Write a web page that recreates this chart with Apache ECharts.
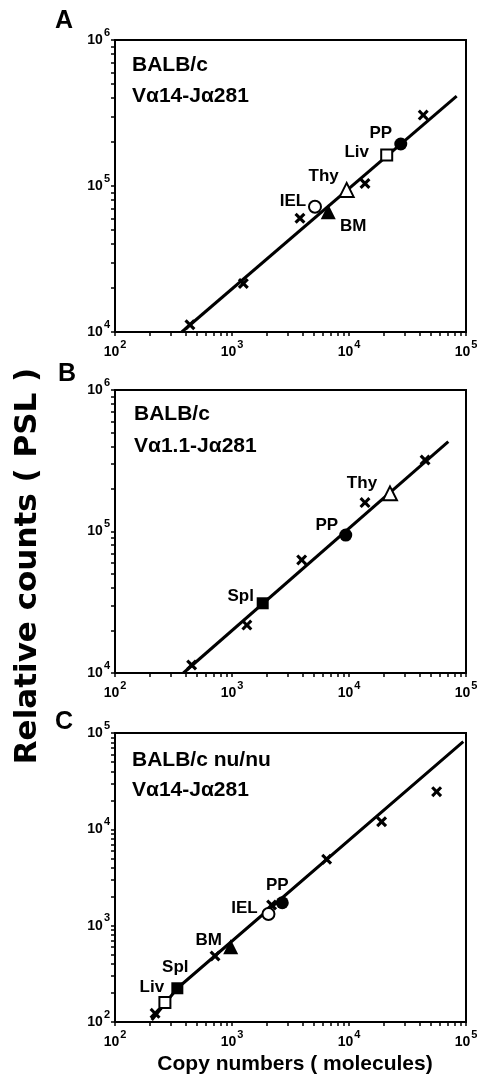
<!DOCTYPE html>
<html><head><meta charset="utf-8">
<script src="https://cdn.jsdelivr.net/npm/echarts@6/dist/echarts.min.js"></script>
<style>html,body{margin:0;padding:0;background:#fff}#c{width:481px;height:1074px}</style>
</head><body><div id="c"></div><script>
// ---------- axis ticks / labels ----------
const xTickValues = [100,200,300,400,500,600,700,800,900,1000,2000,3000,4000,5000,6000,7000,8000,9000,10000,20000,30000,40000,50000,60000,70000,80000,90000,100000];
const xLabelValues = [100,1000,10000,100000];
const yTickAB = [10000,20000,30000,40000,50000,60000,70000,80000,90000,100000,200000,300000,400000,500000,600000,700000,800000,900000,1000000];
const yLabelAB = [10000,100000,1000000];
const yTickC = [100,200,300,400,500,600,700,800,900,1000,2000,3000,4000,5000,6000,7000,8000,9000,10000,20000,30000,40000,50000,60000,70000,80000,90000,100000];
const yLabelC = [100,1000,10000,100000];

// ---------- panel A : BALB/c  Vα14-Jα281 ----------
const A_cross = [[437,11200],[1250,21500],[3810,60100],[13700,104000],[43100,306000]];
const A_fit = [[372,10000],[83200,413000]];
const A_IEL = [[5120,72100]];
const A_BM = [[6650,66700]];
const A_Thy = [[9550,94000]];
const A_Liv = [[21000,163000]];
const A_PP = [[27700,194000]];

// ---------- panel B : BALB/c  Vα1.1-Jα281 ----------
const B_cross = [[452,11400],[1340,21800],[3940,63000],[13700,160000],[44700,320000]];
const B_fit = [[384,10000],[70600,431000]];
const B_Spl = [[1830,31100]];
const B_PP = [[9380,94400]];
const B_Thy = [[22400,186000]];

// ---------- panel C : BALB/c nu/nu  Vα14-Jα281 ----------
const C_cross = [[220,123],[716,484],[2180,1640],[6440,4890],[19000,12000],[56100,24600]];
const C_fit = [[206,105],[341,224],[94800,81300]];
const C_Liv = [[267,159]];
const C_Spl = [[341,224]];
const C_BM = [[975,605]];
const C_IEL = [[2050,1320]];
const C_PP = [[2690,1730]];

// ---------- styling ----------
const F = 'Liberation Sans, Arial, sans-serif';
const crossPath = 'path://M2,0 L5,3 L8,0 L10,2 L7,5 L10,8 L8,10 L5,7 L2,10 L0,8 L3,5 L0,2 Z';
const rich = {
  b: {fontSize: 14, fontWeight: 'bold', fontFamily: F, color: '#000', padding: [6,0,6,0], verticalAlign: 'bottom'},
  s: {fontSize: 11, fontWeight: 'bold', fontFamily: F, color: '#000', padding: [0,0,0,1], verticalAlign: 'top'}
};
const fmt = v => '{b|10}{s|' + Math.round(Math.log10(v)) + '}';

const grids = [
  {left: 115, top: 40, width: 351, height: 292},
  {left: 115, top: 390, width: 351, height: 283},
  {left: 115, top: 733, width: 351, height: 289}
].map(g => Object.assign(g, {show: true, borderColor: '#000', borderWidth: 2, backgroundColor: 'transparent', containLabel: false, outerBoundsMode: 'none'}));

function xAx(i) {
  return {type: 'log', logBase: 10, gridIndex: i, min: 100, max: 100000,
    axisLine: {show: true, lineStyle: {color: '#000', width: 2}},
    axisTick: {show: true, inside: false, length: 4, lineStyle: {color: '#000', width: 1.5}, customValues: xTickValues},
    axisLabel: {show: true, margin: 7, formatter: fmt, rich: rich, customValues: xLabelValues},
    splitLine: {show: false}, minorTick: {show: false}};
}
function yAx(i, mn, mx, ticks, labels) {
  return {type: 'log', logBase: 10, gridIndex: i, min: mn, max: mx,
    axisLine: {show: true, lineStyle: {color: '#000', width: 2}},
    axisTick: {show: true, inside: false, length: 4, lineStyle: {color: '#000', width: 1.5}, customValues: ticks},
    axisLabel: {show: true, margin: 5, formatter: fmt, rich: rich, customValues: labels},
    splitLine: {show: false}, minorTick: {show: false}};
}

function fit(i, d) {
  return {type: 'line', xAxisIndex: i, yAxisIndex: i, data: d, symbol: 'none', z: 2,
    lineStyle: {color: '#000', width: 3}, silent: true, animation: false};
}
function pts(i, d, name, kind, off) {
  const shapes = {
    cross: {symbol: crossPath, size: 11, fill: '#000', border: 0},
    ocircle: {symbol: 'circle', size: 12, fill: '#fff', border: 2},
    fcircle: {symbol: 'circle', size: 13, fill: '#000', border: 0},
    otri: {symbol: 'triangle', size: 14, fill: '#fff', border: 2},
    ftri: {symbol: 'triangle', size: 15, fill: '#000', border: 0},
    osq: {symbol: 'rect', size: 11, fill: '#fff', border: 2},
    fsq: {symbol: 'rect', size: 12, fill: '#000', border: 0}
  };
  const s = shapes[kind];
  return {type: 'scatter', name: name, xAxisIndex: i, yAxisIndex: i, data: d, z: 3,
    symbol: s.symbol, symbolSize: s.size, animation: false,
    itemStyle: {color: s.fill, borderColor: '#000', borderWidth: s.border, opacity: 1},
    label: off ? {show: true, position: 'inside', offset: off, formatter: '{a}',
      fontFamily: F, fontWeight: 'bold', fontSize: 17, color: '#000'} : {show: false}};
}

function txt(x, y, t, font, extra) {
  return Object.assign({type: 'text', x: x, y: y, z: 10,
    style: {text: t, font: font, fill: '#000', align: 'left', verticalAlign: 'middle'}}, extra || {});
}
const hdr = 'bold 21px Liberation Sans';
const graphic = [
  txt(64, 21, 'A', 'bold 25px Liberation Sans', {style: {text: 'A', font: 'bold 25px Liberation Sans', fill: '#000', align: 'center', verticalAlign: 'middle'}}),
  txt(67, 374, 'B', '', {style: {text: 'B', font: 'bold 25px Liberation Sans', fill: '#000', align: 'center', verticalAlign: 'middle'}}),
  txt(64, 722, 'C', '', {style: {text: 'C', font: 'bold 25px Liberation Sans', fill: '#000', align: 'center', verticalAlign: 'middle'}}),
  txt(132, 65, 'BALB/c', hdr),
  txt(132, 96, 'Vα14-Jα281', hdr),
  txt(134, 414, 'BALB/c', hdr),
  txt(134, 446, 'Vα1.1-Jα281', hdr),
  txt(132, 760, 'BALB/c nu/nu', hdr),
  txt(132, 790, 'Vα14-Jα281', hdr),
  {type: 'text', x: 28, y: 566, rotation: Math.PI / 2, z: 10,
    style: {text: 'Relative counts ( PSL )', font: 'bold 31px DejaVu Sans', fill: '#000', align: 'center', verticalAlign: 'middle'}},
  {type: 'text', x: 295, y: 1064, z: 10,
    style: {text: 'Copy numbers ( molecules)', font: 'bold 21px Liberation Sans', fill: '#000', align: 'center', verticalAlign: 'middle'}}
];

const option = {
  animation: false,
  backgroundColor: '#fff',
  grid: grids,
  xAxis: [xAx(0), xAx(1), xAx(2)],
  yAxis: [yAx(0, 10000, 1000000, yTickAB, yLabelAB), yAx(1, 10000, 1000000, yTickAB, yLabelAB), yAx(2, 100, 100000, yTickC, yLabelC)],
  graphic: graphic,
  series: [
    fit(0, A_fit),
    pts(0, A_cross, 'x', 'cross'),
    pts(0, A_IEL, 'IEL', 'ocircle', [-22, -5]),
    pts(0, A_BM, 'BM', 'ftri', [25, 15]),
    pts(0, A_Thy, 'Thy', 'otri', [-23, -14]),
    pts(0, A_Liv, 'Liv', 'osq', [-30, -3]),
    pts(0, A_PP, 'PP', 'fcircle', [-20, -11]),
    fit(1, B_fit),
    pts(1, B_cross, 'x', 'cross'),
    pts(1, B_Spl, 'Spl', 'fsq', [-22, -7]),
    pts(1, B_PP, 'PP', 'fcircle', [-19, -10]),
    pts(1, B_Thy, 'Thy', 'otri', [-28, -10]),
    fit(2, C_fit),
    pts(2, C_cross, 'x', 'cross'),
    pts(2, C_Liv, 'Liv', 'osq', [-13, -15]),
    pts(2, C_Spl, 'Spl', 'fsq', [-2, -21]),
    pts(2, C_BM, 'BM', 'ftri', [-22, -6]),
    pts(2, C_IEL, 'IEL', 'ocircle', [-24, -6]),
    pts(2, C_PP, 'PP', 'fcircle', [-5, -17])
  ]
};
const chart = echarts.init(document.getElementById('c'), null, {renderer: 'canvas'});
chart.setOption(option);
</script></body></html>
